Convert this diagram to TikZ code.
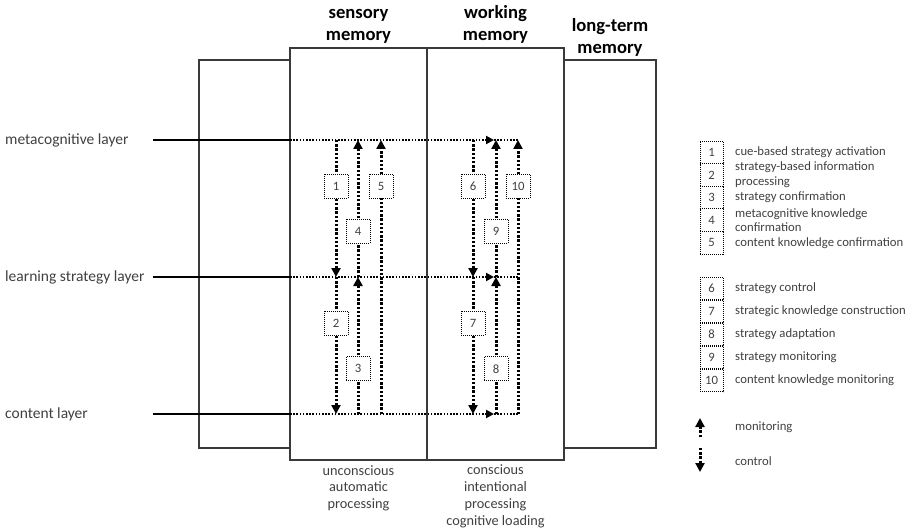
\documentclass[tikz,border=0pt]{standalone}
\usepackage{fontspec}
\setmainfont{Carlito}
\usetikzlibrary{arrows.meta}
\definecolor{frame}{HTML}{3A3A3A}
\definecolor{txt}{HTML}{404040}
\begin{document}
\begin{tikzpicture}[x=1pt,y=-1pt,
  frameline/.style={draw=frame,line width=1.4pt},
  layerline/.style={draw=black,line width=2.2pt},
  hflow/.style={draw=black,line width=2pt,dash pattern=on 1.6pt off 1.6pt},
  flowtip/.style={-{Triangle[width=8pt,length=8pt]}},
  vflow/.style={draw=black,line width=3pt,dash pattern=on 2.4pt off 1.8pt,-{Triangle[width=9pt,length=9pt]}},
  tag/.style={draw=black,fill=white,line width=0.8pt,dash pattern=on 1pt off 1pt,
    minimum width=24pt,minimum height=24pt,inner sep=0pt,text=txt,
    font=\fontsize{12.7}{14}\selectfont},
  legbox/.style={tag,fill=none,minimum width=23pt,minimum height=22.6pt},
  legtext/.style={anchor=west,align=left,text=txt,inner sep=0pt,
    font=\fontsize{12.7}{14.7}\selectfont},
  title/.style={align=center,anchor=base,text=black,inner sep=0pt,
    font=\fontsize{18.6}{22}\selectfont\bfseries},
  note/.style={align=center,anchor=base,text=txt,inner sep=0pt,
    font=\fontsize{14.3}{16.7}\selectfont},
  layerlabel/.style={anchor=west,text=txt,inner sep=0pt,
    font=\fontsize{15.5}{18}\selectfont}
]
\useasboundingbox (0,0) rectangle (914,532);

% memory stores
\draw[frameline] (199,60) rectangle (656,448);
\draw[frameline,fill=white] (290,48) rectangle (427,460);
\draw[frameline,fill=white] (427,48) rectangle (564,460);

% titles (base anchor sits on the last line)
\node[title] (sm) at (358.5,41) {sensory\\memory};
\node[title] (wm) at (495.5,41) {working\\memory};
\node[title] (ltm) at (610,54) {long-term\\memory};

\node[note] (unc) at (358.5,508.5) {unconscious\\automatic\\processing};
\node[note] (con) at (495.5,525) {conscious\\intentional\\processing\\cognitive loading};

% layers
\coordinate (Lm) at (153,140);
\coordinate (Ls) at (153,277);
\coordinate (Lc) at (153,414);
\coordinate (ce) at (290,0);
\coordinate (ch) at (494,0);
\coordinate (c1) at (336,0);
\coordinate (c4) at (358,0);
\coordinate (c5) at (381,0);
\coordinate (c6) at (473,0);
\coordinate (c9) at (496,0);
\coordinate (c10) at (518,0);

\node[layerlabel] (lm) at (5,140) {metacognitive layer};
\node[layerlabel] (ls) at (5,277) {learning strategy layer};
\node[layerlabel] (lc) at (5,414) {content layer};

\foreach \L in {Lm,Ls,Lc}{
  \draw[layerline] (\L) -- (ce|-\L);
  \draw[hflow,flowtip] (ce|-\L) -- (ch|-\L);
  \draw[hflow] (ch|-\L) -- (c10|-\L);
}

% control (downward) and monitoring (upward) flows
\draw[vflow] (c1|-Lm) -- node[tag,pos=0.336] (t1) {1} (c1|-Ls);
\draw[vflow] (c1|-Ls) -- node[tag,pos=0.336] (t2) {2} (c1|-Lc);
\draw[vflow] (c4|-Ls) -- node[tag,pos=0.336] (t4) {4} (c4|-Lm);
\draw[vflow] (c4|-Lc) -- node[tag,pos=0.33] (t3) {3} (c4|-Ls);
\draw[vflow] (c5|-Lc) -- node[tag,pos=0.832] (t5) {5} (c5|-Lm);

\draw[vflow] (c6|-Lm) -- node[tag,pos=0.336] (t6) {6} (c6|-Ls);
\draw[vflow] (c6|-Ls) -- node[tag,pos=0.336] (t7) {7} (c6|-Lc);
\draw[vflow] (c9|-Ls) -- node[tag,pos=0.336] (t9) {9} (c9|-Lm);
\draw[vflow] (c9|-Lc) -- node[tag,pos=0.33] (t8) {8} (c9|-Ls);
\draw[vflow] (c10|-Lc) -- node[tag,pos=0.832] (t10) {10} (c10|-Lm);

% legend
\foreach \n/\y in {1/152.3,2/174.9,3/197.5,4/220.1,5/242.7}{
  \node[legbox] (k\n) at (711.5,\y) {\n};
}
\node[legtext] (d1) at (735,152.3) {cue-based strategy activation};
\node[legtext] (d2) at (735,174.9) {strategy-based information\\processing};
\node[legtext] (d3) at (735,197.5) {strategy confirmation};
\node[legtext] (d4) at (735,220.1) {metacognitive knowledge\\confirmation};
\node[legtext] (d5) at (735,242.7) {content knowledge confirmation};

\foreach \n/\y in {6/288.5,7/311.5,8/334.5,9/357.5,10/380.5}{
  \node[legbox] (k\n) at (711.5,\y) {\n};
}
\node[legtext] (d6) at (735,288.5) {strategy control};
\node[legtext] (d7) at (735,311.5) {strategic knowledge construction};
\node[legtext] (d8) at (735,334.5) {strategy adaptation};
\node[legtext] (d9) at (735,357.5) {strategy monitoring};
\node[legtext] (d10) at (735,380.5) {content knowledge monitoring};

\coordinate (mTail) at (700,437);
\coordinate (mHead) at (700,418);
\coordinate (cTail) at (700,448);
\coordinate (cHead) at (700,472);
\draw[vflow] (mTail) -- (mHead);
\draw[vflow] (cTail) -- (cHead);
\node[legtext] (dm) at (735,427) {monitoring};
\node[legtext] (dc) at (735,461) {control};
\end{tikzpicture}
\end{document}
